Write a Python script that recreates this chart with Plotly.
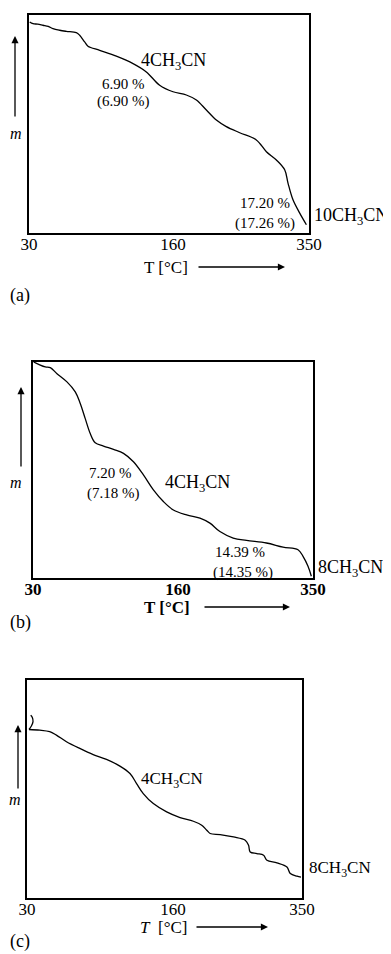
import plotly.graph_objects as go

# ---- data (temperature in °C, mass in relative units of the plot box) ----
T_a = [30.8, 34.6, 40, 46, 52, 57.4, 65, 72.7, 84.1, 87.9, 93.6, 97.4, 110.8, 129.8, 148.9,
       164.1, 179.3, 194.6, 209.8, 221.3, 232.7, 244.1, 255.5, 270.8, 289.8, 301.3, 312.7,
       322.2, 326, 331.7, 339.4, 347]
m_a = [96.8, 96.0, 95.8, 95.3, 94.8, 93.75, 93.0, 92.5, 91.9, 90.7, 87.65, 85.7, 83.8, 81.1,
       77.7, 73.9, 67.8, 64.8, 63.3, 61.0, 56.4, 51.8, 48.8, 46.0, 42.7, 37.3, 33.5, 29.0,
       22.9, 15.2, 9.1, 3.8]

T_b = [30.8, 36.5, 44.1, 49.8, 57.4, 68.8, 78.3, 84, 89.7, 95.4, 101.1, 110.6, 122, 133.4,
       144.8, 156.2, 167.6, 179, 190.4, 205.6, 220.8, 232.2, 243.6, 258.8, 274, 296.8, 315.8,
       332.9, 338.6, 344.3, 348.1]
m_b = [100, 98.9, 97.7, 97.4, 94.6, 90.8, 86.2, 80.8, 73.8, 66.9, 62.6, 61.1, 59.5, 57.7,
       53.8, 47.7, 40.8, 35.4, 31.5, 29.2, 27.7, 25.4, 21.5, 18.5, 17.4, 16.2, 14.3, 13.1,
       10.0, 5.4, 0.8]

T_c = [32.3, 44.8, 56.4, 64.2, 75.9, 91.4, 107, 122.5, 138.1, 149.8, 157.5, 165.3, 177,
       192.5, 208.1, 223.6, 233.3, 239.2, 243.1, 254.7, 270.3, 283.9, 287.8, 289.7, 297.5,
       305.3, 309.2, 320.8, 332.5, 336.4, 344.2, 348.8]
m_c = [77.3, 77.0, 76.3, 74.7, 71.7, 68.6, 65.8, 63.6, 60.5, 57.1, 52.5, 47.9, 43.3, 39.5,
       36.9, 35.2, 33.4, 31.1, 29.6, 29.1, 28.0, 26.5, 24.2, 21.1, 20.4, 19.6, 17.3, 16.1,
       14.2, 11.2, 10.0, 9.6]
T_c_hook = [32.3, 35.1, 37.0, 36.2, 34.3]
m_c_hook = [77.3, 78.9, 80.9, 82.8, 83.8]

tick_text = ["30", "160", "350"]
tick_pos_a = [30, 194.6, 350]
tick_pos_b = [30, 195.7, 350]
tick_pos_c = [30, 199.9, 350]

OFF = 8  # default page body margin
W, H = 391 - OFF, 954 - OFF
SERIF = "Liberation Serif, Times New Roman, serif"

def px(x):
    return (x - OFF) / W

def py(y):
    return 1 - (y - OFF) / H

fig = go.Figure()
line = dict(color="black", width=1.3)
fig.add_trace(go.Scatter(x=T_a, y=m_a, mode="lines", line=line, line_shape="spline",
                         xaxis="x", yaxis="y", showlegend=False))
fig.add_trace(go.Scatter(x=T_b, y=m_b, mode="lines", line=line, line_shape="spline",
                         xaxis="x2", yaxis="y2", showlegend=False))
fig.add_trace(go.Scatter(x=T_c, y=m_c, mode="lines", line=line, line_shape="spline",
                         xaxis="x3", yaxis="y3", showlegend=False))
fig.add_trace(go.Scatter(x=T_c_hook, y=m_c_hook, mode="lines", line=line, line_shape="spline",
                         xaxis="x3", yaxis="y3", showlegend=False))

def xax(dom, tv, bold=False, anchor="y"):
    return dict(domain=dom, range=[30, 350], tickvals=tv,
                ticktext=[f"<b>{t}</b>" if bold else t for t in tick_text],
                showline=True, mirror=True, linecolor="black", linewidth=2,
                showgrid=False, zeroline=False, ticks="", ticklabelstandoff=-5,
                automargin=False,
                tickfont=dict(family=SERIF, size=17, color="black"), anchor=anchor)

def yax(dom, anchor):
    return dict(domain=dom, range=[0, 100], showline=True, mirror=True, linecolor="black",
                linewidth=2, showgrid=False, zeroline=False, showticklabels=False,
                automargin=False, ticks="", anchor=anchor)

fig.update_layout(
    width=W, height=H, margin=dict(l=0, r=0, t=0, b=0, autoexpand=False),
    paper_bgcolor="white", plot_bgcolor="white",
    xaxis=xax([px(29), px(309)], tick_pos_a, anchor="y"),
    yaxis=yax([py(233), py(15)], "x"),
    xaxis2=xax([px(33), px(313)], tick_pos_b, bold=True, anchor="y2"),
    yaxis2=yax([py(578), py(362)], "x2"),
    xaxis3=xax([px(27), px(302)], tick_pos_c, anchor="y3"),
    yaxis3=yax([py(898), py(680)], "x3"),
)

ann = []

def text(x, y, s, size=16, xanchor="center", bold=False, italic=False):
    if bold:
        s = f"<b>{s}</b>"
    if italic:
        s = f"<i>{s}</i>"
    ann.append(dict(x=px(x), y=py(y), xref="paper", yref="paper", text=s, showarrow=False,
                    xanchor=xanchor, yanchor="middle",
                    font=dict(family=SERIF, size=size, color="black")))

def arrow(x_head, y_head, x_tail, y_tail):
    ann.append(dict(x=px(x_head), y=py(y_head), xref="paper", yref="paper", text="",
                    showarrow=True, ax=x_tail - x_head, ay=y_tail - y_head,
                    axref="pixel", ayref="pixel", arrowhead=2, arrowsize=1.1,
                    arrowwidth=1.3, arrowcolor="black"))

CH = "CH<sub>3</sub>CN"
# panel (a)
text(173, 62, "4" + CH, 18)
text(123, 84, "6.90 %", 15)
text(123, 101, "(6.90 %)", 15)
text(265, 203, "17.20 %", 15)
text(265, 223, "(17.26 %)", 15)
text(312, 216, "10" + CH, 18, xanchor="left")
text(166, 267, "T [°C]", 17)
arrow(285, 267, 197, 267)
arrow(15, 36, 15, 118)
text(16, 133, "m", 16, italic=True)
text(8, 295, "(a)", 18, xanchor="left")

# panel (b)
text(110, 473, "7.20 %", 15)
text(113, 493, "(7.18 %)", 15)
text(197, 483, "4" + CH, 18)
text(240, 552, "14.39 %", 15)
text(243, 572, "(14.35 %)", 15)
text(316, 568, "8" + CH, 18, xanchor="left")
text(167, 607, "T [°C]", 17, bold=True)
arrow(290, 607, 203, 607)
arrow(21, 387, 21, 468)
text(16, 482, "m", 16, italic=True)
text(8, 622, "(b)", 18, xanchor="left")

# panel (c)
text(172, 780, "4" + CH, 17)
text(307, 869, "8" + CH, 17, xanchor="left")
text(163, 927, "<i>T</i>  [°C]", 17)
arrow(268, 927, 195, 927)
arrow(18, 725, 18, 790)
text(15, 799, "m", 16, italic=True)
text(8, 941, "(c)", 18, xanchor="left")

fig.update_layout(annotations=ann)
fig.write_html("out.html")
